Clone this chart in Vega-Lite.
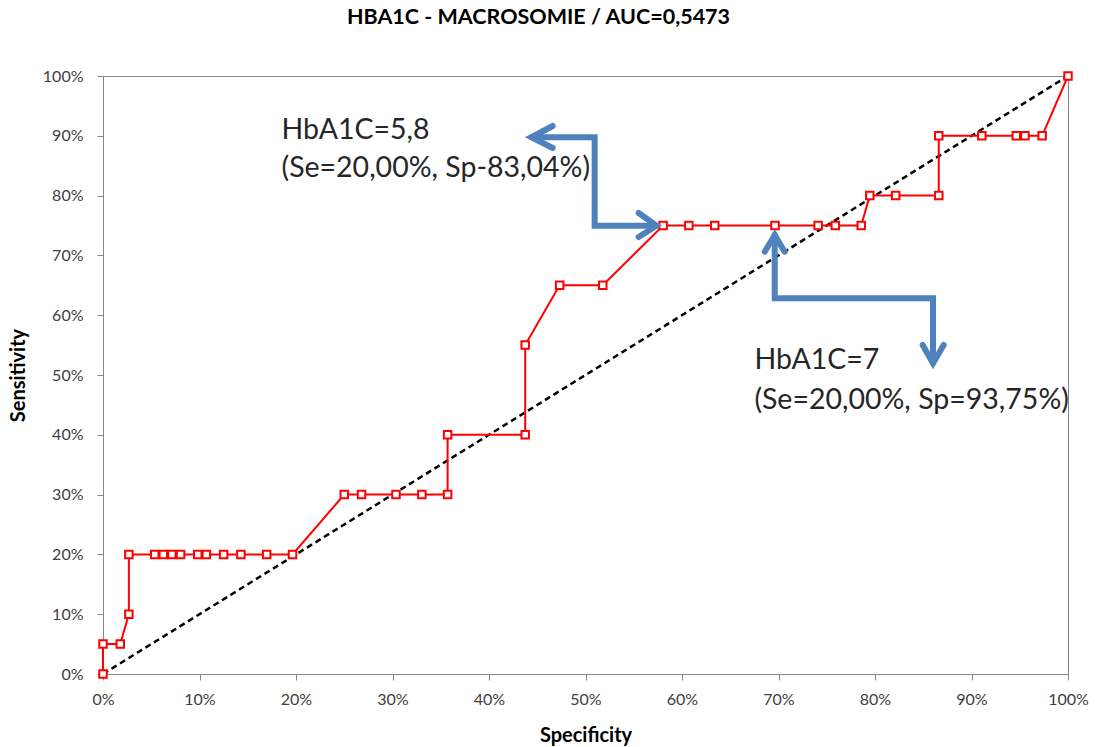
{
  "$schema": "https://vega.github.io/schema/vega-lite/v6.json",
  "width": 965,
  "height": 598,
  "autosize": {"type": "none"},
  "padding": {"left": 103, "top": 76, "right": 27, "bottom": 73},
  "background": "white",
  "title": {
    "text": "HBA1C - MACROSOMIE / AUC=0,5473",
    "font": "Lato",
    "fontSize": 21.5,
    "fontWeight": "bold",
    "color": "#000000",
    "anchor": "middle",
    "dx": -47,
    "offset": 40
  },
  "config": {
    "view": {"stroke": "#868686", "strokeWidth": 1},
    "axis": {
      "grid": false,
      "domainColor": "#868686",
      "tickColor": "#868686",
      "tickSize": 6,
      "labelFlush": false,
      "labelColor": "#404040",
      "labelFont": "Lato",
      "labelFontSize": 16,
      "titleFont": "Lato",
      "titleFontSize": 20,
      "titleFontWeight": "bold",
      "titleColor": "#000000"
    }
  },
  "encoding": {
    "x": {
      "field": "x",
      "type": "quantitative",
      "scale": {"domain": [0, 100], "nice": false, "zero": false},
      "axis": {
        "title": "Specificity",
        "values": [0, 10, 20, 30, 40, 50, 60, 70, 80, 90, 100],
        "labelExpr": "datum.value + '%'",
        "labelPadding": 11,
        "titlePadding": 18
      }
    },
    "y": {
      "field": "y",
      "type": "quantitative",
      "scale": {"domain": [0, 100], "nice": false, "zero": false},
      "axis": {
        "title": "Sensitivity",
        "values": [0, 10, 20, 30, 40, 50, 60, 70, 80, 90, 100],
        "labelExpr": "datum.value + '%'",
        "labelPadding": 14,
        "titlePadding": 14
      }
    }
  },
  "layer": [
    {
      "data": {"values": [{"x": 0, "y": 0}, {"x": 100, "y": 100}]},
      "mark": {"type": "line", "color": "#000000", "strokeWidth": 2.5, "strokeDash": [6, 4]}
    },
    {
      "data": {"name": "roc", "values": [
        {"i": 0, "x": 0, "y": 0},
        {"i": 1, "x": 0, "y": 5},
        {"i": 2, "x": 1.79, "y": 5},
        {"i": 3, "x": 2.68, "y": 10},
        {"i": 4, "x": 2.68, "y": 20},
        {"i": 5, "x": 5.36, "y": 20},
        {"i": 6, "x": 6.25, "y": 20},
        {"i": 7, "x": 7.14, "y": 20},
        {"i": 8, "x": 8.04, "y": 20},
        {"i": 9, "x": 9.82, "y": 20},
        {"i": 10, "x": 10.71, "y": 20},
        {"i": 11, "x": 12.5, "y": 20},
        {"i": 12, "x": 14.29, "y": 20},
        {"i": 13, "x": 16.96, "y": 20},
        {"i": 14, "x": 19.64, "y": 20},
        {"i": 15, "x": 25.0, "y": 30},
        {"i": 16, "x": 26.79, "y": 30},
        {"i": 17, "x": 30.36, "y": 30},
        {"i": 18, "x": 33.04, "y": 30},
        {"i": 19, "x": 35.71, "y": 30},
        {"i": 20, "x": 35.71, "y": 40},
        {"i": 21, "x": 43.75, "y": 40},
        {"i": 22, "x": 43.75, "y": 55},
        {"i": 23, "x": 47.32, "y": 65},
        {"i": 24, "x": 51.79, "y": 65},
        {"i": 25, "x": 58.04, "y": 75},
        {"i": 26, "x": 60.71, "y": 75},
        {"i": 27, "x": 63.39, "y": 75},
        {"i": 28, "x": 69.64, "y": 75},
        {"i": 29, "x": 74.11, "y": 75},
        {"i": 30, "x": 75.89, "y": 75},
        {"i": 31, "x": 78.57, "y": 75},
        {"i": 32, "x": 79.46, "y": 80},
        {"i": 33, "x": 82.14, "y": 80},
        {"i": 34, "x": 86.61, "y": 80},
        {"i": 35, "x": 86.61, "y": 90},
        {"i": 36, "x": 91.07, "y": 90},
        {"i": 37, "x": 94.64, "y": 90},
        {"i": 38, "x": 95.54, "y": 90},
        {"i": 39, "x": 97.32, "y": 90},
        {"i": 40, "x": 100, "y": 100}
      ]},
      "layer": [
        {
          "mark": {"type": "line", "color": "#FF0000", "strokeWidth": 2},
          "encoding": {"order": {"field": "i", "type": "quantitative"}}
        },
        {
          "mark": {"type": "point", "shape": "square", "filled": false, "fill": "#FFFFFF", "fillOpacity": 1, "stroke": "#FF0000", "strokeWidth": 2, "size": 56, "opacity": 1}
        }
      ]
    },
    {
      "data": {"values": [
        {"seg": "a1", "o": 0, "x": 44.39, "y": 89.75},
        {"seg": "a1", "o": 1, "x": 50.95, "y": 89.75},
        {"seg": "a1", "o": 2, "x": 50.95, "y": 74.97},
        {"seg": "a1", "o": 3, "x": 57.35, "y": 74.97},
        {"seg": "h1", "o": 0, "x": 46.6, "y": 91.64},
        {"seg": "h1", "o": 1, "x": 44.39, "y": 89.75},
        {"seg": "h1", "o": 2, "x": 46.6, "y": 87.96},
        {"seg": "h2", "o": 0, "x": 55.51, "y": 77.09},
        {"seg": "h2", "o": 1, "x": 57.35, "y": 74.97},
        {"seg": "h2", "o": 2, "x": 55.51, "y": 73.08},
        {"seg": "a2", "o": 0, "x": 69.61, "y": 73.41},
        {"seg": "a2", "o": 1, "x": 69.61, "y": 62.83},
        {"seg": "a2", "o": 2, "x": 86.01, "y": 62.83},
        {"seg": "a2", "o": 3, "x": 86.01, "y": 51.96},
        {"seg": "h3", "o": 0, "x": 68.57, "y": 70.62},
        {"seg": "h3", "o": 1, "x": 69.61, "y": 73.41},
        {"seg": "h3", "o": 2, "x": 70.64, "y": 70.62},
        {"seg": "h4", "o": 0, "x": 84.94, "y": 55.02},
        {"seg": "h4", "o": 1, "x": 86.01, "y": 51.96},
        {"seg": "h4", "o": 2, "x": 87.12, "y": 55.02}
      ]},
      "mark": {"type": "line", "color": "#4F81BD", "strokeWidth": 6, "strokeCap": "round", "strokeJoin": "miter"},
      "encoding": {
        "detail": {"field": "seg", "type": "nominal"},
        "order": {"field": "o", "type": "quantitative"}
      }
    },
    {
      "data": {"values": [
        {"x": 18.5, "y": 91.0, "label": "HbA1C=5,8"},
        {"x": 18.5, "y": 84.6, "label": "(Se=20,00%, Sp-83,04%)"},
        {"x": 67.5, "y": 52.5, "label": "HbA1C=7"},
        {"x": 67.5, "y": 45.8, "label": "(Se=20,00%, Sp=93,75%)"}
      ]},
      "mark": {"type": "text", "align": "left", "baseline": "middle", "font": "Lato", "fontSize": 28.5, "color": "#262626"},
      "encoding": {"text": {"field": "label", "type": "nominal"}}
    }
  ]
}
